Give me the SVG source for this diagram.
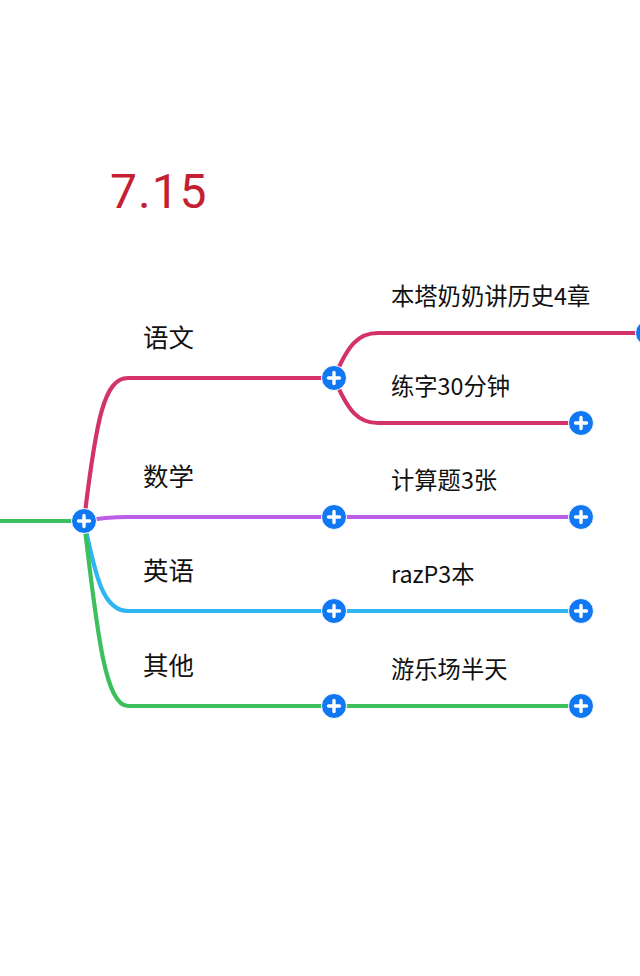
<svg xmlns="http://www.w3.org/2000/svg" width="640" height="976" viewBox="0 0 640 976">
<defs>
<style>
.ln{fill:none;stroke-width:4.2;stroke-linecap:round}
.red{stroke:#d4336a}
.pur{stroke:#bb5de8}
.blu{stroke:#2fb4f4}
.grn{stroke:#3cbf5c}
.main{font-family:"Noto Sans CJK SC","Noto Sans",sans-serif;font-size:25.5px;fill:#111}
.sub{font-family:"Noto Sans CJK SC","Noto Sans",sans-serif;font-size:23.3px;fill:#111}
.title{font-family:Roboto,"Liberation Sans",sans-serif;font-size:48px;fill:#c41f33;letter-spacing:1px}
</style>
<g id="btn">
<circle r="12.5" fill="#0f78f2" stroke="#ffffff" stroke-width="1"/>
<path d="M-5.5,0H5.5M0,-5.5V5.5" stroke="#fff" stroke-width="3.4" stroke-linecap="round"/>
</g>
</defs>
<rect width="640" height="976" fill="#fff"/>
<g id="connectors">
<path class="ln grn" d="M-2,521H84"/>
<path class="ln red" d="M84,521C96,420 104,378 128,378H334"/>
<path class="ln pur" d="M84,521C100,518 110,517 128,517H334H581"/>
<path class="ln blu" d="M84,521C96,580 104,611 128,611H334H581"/>
<path class="ln grn" d="M84,521C96,621 104,706 128,706H334H581"/>
<path class="ln red" d="M334,378C348,345 358,333 378,333H645"/>
<path class="ln red" d="M334,378C348,411 358,423 378,423H581"/>
</g>
<g id="title"><text class="title" x="110" y="208">7.15</text></g>
<g id="root"><use href="#btn" x="84" y="521"/></g>
<g id="n-yuwen"><text class="main" x="143" y="347">语文</text><use href="#btn" x="334" y="378"/></g>
<g id="n-shuxue"><text class="main" x="143" y="486">数学</text><use href="#btn" x="334" y="517"/></g>
<g id="n-yingyu"><text class="main" x="143" y="580">英语</text><use href="#btn" x="334" y="611"/></g>
<g id="n-qita"><text class="main" x="143" y="675">其他</text><use href="#btn" x="334" y="706"/></g>
<g id="n-benta"><text class="sub" x="391" y="305">本塔奶奶讲历史4章</text><use href="#btn" x="648" y="333"/></g>
<g id="n-lianzi"><text class="sub" x="391" y="395">练字30分钟</text><use href="#btn" x="581" y="423"/></g>
<g id="n-jisuan"><text class="sub" x="391" y="489">计算题3张</text><use href="#btn" x="581" y="517"/></g>
<g id="n-raz"><text class="sub" x="391" y="583">razP3本</text><use href="#btn" x="581" y="611"/></g>
<g id="n-youle"><text class="sub" x="391" y="678">游乐场半天</text><use href="#btn" x="581" y="706"/></g>
</svg>
